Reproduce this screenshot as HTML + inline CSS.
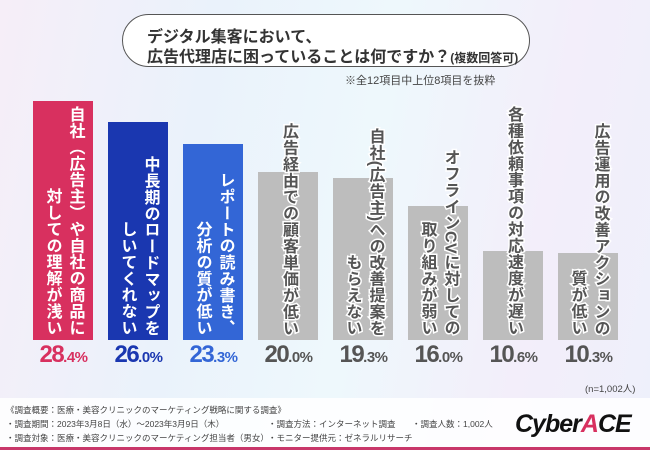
<!DOCTYPE html>
<html><head><meta charset="utf-8">
<style>
*{margin:0;padding:0;box-sizing:border-box}
body{width:650px;height:450px;overflow:hidden;font-family:"Liberation Sans","Noto Sans CJK JP",sans-serif;}
#root{position:relative;width:650px;height:450px;background:linear-gradient(100deg,#f6eef8 0%,#eaf2fb 30%,#eef8fc 55%,#f3eefa 80%,#eef0fb 100%);overflow:hidden}
.pill{position:absolute;left:122px;top:14px;width:408px;height:53px;border:1.5px solid #555;border-radius:27px;background:#fff}
.pill div{position:absolute;left:24px;font-size:16px;color:#333;font-weight:bold;white-space:nowrap}
.note{position:absolute;left:345px;top:72px;font-size:11px;color:#444}
.bar{position:absolute}
.lbl{position:absolute;display:flex;flex-direction:row-reverse;align-items:flex-end;gap:3px}
.col{writing-mode:vertical-rl;font-size:16px;font-weight:bold;line-height:20px;letter-spacing:0.4px;white-space:nowrap;paint-order:stroke fill;-webkit-text-stroke:3px #fff}
.val{position:absolute;width:75px;text-align:center;font-weight:bold;font-size:24px;letter-spacing:-1.5px}
.val small{font-size:15px;letter-spacing:-0.5px}
.foot{position:absolute;left:0;top:398px;width:650px;height:49px;background:rgba(255,255,255,0.85)}
.ft{position:absolute;font-size:8.5px;color:#444;white-space:nowrap}
</style></head><body>
<div id="root">
<div class="pill">
 <div style="top:8px">デジタル集客において、</div>
 <div style="top:28px">広告代理店に困っていることは何ですか？<span style="font-size:12px">(複数回答可)</span></div>
</div>
<div class="note">※全12項目中上位8項目を抜粋</div>
<div id="chart"></div>
<div class="foot"></div>
<div style="position:absolute;left:585px;top:381px;font-size:9.5px;color:#444">(n=1,002人)</div>
<div class="ft" style="left:6px;top:404px">《調査概要：医療・美容クリニックのマーケティング戦略に関する調査》</div>
<div class="ft" style="left:6px;top:418px">・調査期間：2023年3月8日（水）～2023年3月9日（木）</div>
<div class="ft" style="left:6px;top:432px">・調査対象：医療・美容クリニックのマーケティング担当者（男女）</div>
<div class="ft" style="left:268px;top:418px">・調査方法：インターネット調査</div>
<div class="ft" style="left:268px;top:432px">・モニター提供元：ゼネラルリサーチ</div>
<div class="ft" style="left:412px;top:418px">・調査人数：1,002人</div>
<div style="position:absolute;left:515px;top:410px;font-size:25px;font-weight:bold;font-style:italic;color:#111;letter-spacing:-1px">Cyber<span style="color:#d8305f">A</span>CE</div>
<div style="position:absolute;left:0;top:447px;width:650px;height:3px;background:#c8376a"></div>
</div>
<script>
const categories=[["自社（広告主）や自社の商品に","対しての理解が浅い"],["中長期のロードマップを","しいてくれない"],["レポートの読み書き、","分析の質が低い"],["広告経由での顧客単価が低い"],["自社(広告主)への改善提案を","もらえない"],["オフラインCVに対しての","取り組みが弱い"],["各種依頼事項の対応速度が遅い"],["広告運用の改善アクションの","質が低い"]];
const values=[28.4,26.0,23.3,20.0,19.3,16.0,10.6,10.3];
const colors=["#d8305f","#1a37b0","#3366d6","#bdbdbd","#bdbdbd","#bdbdbd","#bdbdbd","#bdbdbd"];
const valColors=["#d8305f","#1a37b0","#3366d6","#555","#555","#555","#555","#555"];
const baseY=340, scale=8.4, x0=33, step=75, bw=60;
const yPos=v=>baseY-v*scale;
const chart=document.getElementById('chart');
values.forEach((v,i)=>{
 const x=x0+i*step;
 const b=document.createElement('div');
 b.className='bar';
 
 
 b.style.cssText=`left:${x}px;top:${yPos(v)}px;width:${bw}px;height:${v*scale}px;background:${colors[i]}`;
 chart.appendChild(b);
 const l=document.createElement('div');
 l.className='lbl';
 
 
 l.style.cssText=`left:${x}px;width:${bw}px;bottom:${450-336}px;justify-content:center`;
 categories[i].forEach(t=>{
  const c=document.createElement('div');
  c.className='col';
  c.textContent=t;
  c.style.color=i<3?'#fff':'#555';
  if(i<3)c.style.webkitTextStroke='2px '+colors[i];
  l.appendChild(c);
 });
 chart.appendChild(l);
 const s=v.toFixed(1).split('.');
 const t=document.createElement('div');
 t.className='val';
 
 
 t.style.cssText=`left:${x-7}px;top:341px;color:${valColors[i]}`;
 t.innerHTML=`${s[0]}<small>.${s[1]}%</small>`;
 chart.appendChild(t);
});
</script>
</body></html>
